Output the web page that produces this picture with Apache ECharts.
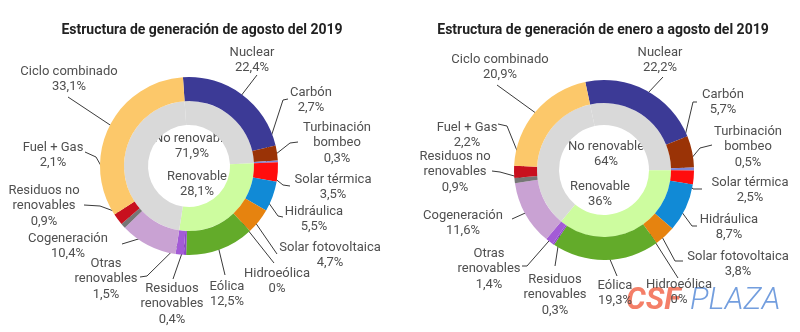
<!DOCTYPE html>
<html><head><meta charset="utf-8">
<script src="https://cdn.jsdelivr.net/npm/echarts@6/dist/echarts.min.js"></script>
<style>html,body{margin:0;padding:0;background:#fff}#c{width:800px;height:332px}</style>
</head><body><div id="c"></div>
<script>
// ---------- DATA ----------
const titles = ['Estructura de generación de agosto del 2019', 'Estructura de generación de enero a agosto del 2019'];
const categories = ['Nuclear', 'Carbón', 'Turbinación\nbombeo', 'Solar térmica', 'Hidráulica', 'Solar fotovoltaica', 'Hidroeólica', 'Eólica', 'Residuos\nrenovables', 'Otras\nrenovables', 'Cogeneración', 'Residuos no\nrenovables', 'Fuel + Gas', 'Ciclo combinado'];
const renewable = [0, 0, 0, 1, 1, 1, 1, 1, 1, 1, 0, 0, 0, 0];
const agosto2019 = [22.4, 2.7, 0.3, 3.5, 5.5, 4.7, 0, 12.5, 0.4, 1.5, 10.4, 0.9, 2.1, 33.1];
const eneroAgosto2019 = [22.2, 5.7, 0.5, 2.5, 8.7, 3.8, 0, 19.3, 0.3, 1.4, 11.6, 0.9, 2.2, 20.9];
const groupNames = ['No renovable', 'Renovable'];
const groupAgosto2019 = [71.9, 28.1];
const groupEneroAgosto2019 = [64, 36];

// ---------- STYLE / LAYOUT ----------
const colors = ['#3c3a96', '#9a3306', '#7f86d6', '#ff0d0d', '#118ad6', '#e6830f', '#6cb0e0', '#63ab2a', '#8e48c8', '#a35bd6', '#c9a2d3', '#767676', '#c8101e', '#fcc86a'];
const groupColors = ['#d9d9d9', '#cdfc9f'];
const FONT = 'Roboto';
const charts = [
  { values: agosto2019, groups: groupAgosto2019, center: [189, 166], outer: [65, 89], inner: [41, 65], startAngle: 93.9, titleX: 197,
    labels: [[252,60],[311,100],[337,143],[333,187],[314,219],[330,255],[277,281],[227,294],[172,304],[106,279],[68,246],[44,206],[53,155],[69,79]],
    lines: [[[257,75]], [[283,100],[288,99]], [[290,143],[298,142]], [[283,185],[290,186]], [[278,216],[283,217]], [[277,254]], [[274,263]], [[225,275]], [[173,279]], [[147,276],[140,277]], [[122,244]], [[100,206],[84,205]], [[96,157],[85,152]], [[68,97]]],
    centerText: [[192,146],[197,184]] },
  { values: eneroAgosto2019, groups: groupEneroAgosto2019, center: [604, 170], outer: [67, 90], inner: [45, 67], startAngle: 102, titleX: 598,
    labels: [[660,60],[723,102],[748,147],[750,190],[729,227],[738,264],[679,292],[615,293],[555,295],[489,269],[463,223],[455,172],[467,135],[500,67]],
    lines: [[[663,77]], [[693,102],[697,102]], [[700,148],[712,145]], [[693,189],[702,189]], [[692,226],[697,226]], [[675,261],[683,261]], [[678,278]], [[617,276]], [[555,266]], [[527,266],[522,266]], [[512,219]], [[500,172],[492,171]], [[507,126],[498,124]], [[497,85]]],
    centerText: [[606,154],[600,194]] }
];

const fmt = v => String(v).replace('.', ',') + '%';

function segMid(ch, i) {
  const vals = ch.values;
  const total = vals.reduce((a, b) => a + b, 0);
  let before = 0;
  for (let k = 0; k < i; k++) before += vals[k];
  const mid = before + vals[i] / 2;
  const th = (mid / total) * 2 * Math.PI + (90 - ch.startAngle) * Math.PI / 180;
  const rm = (ch.outer[0] + ch.outer[1]) / 2;
  return [ch.center[0] + rm * Math.sin(th), ch.center[1] - rm * Math.cos(th)];
}

function innerRuns(ch) {
  const runs = [];
  ch.values.forEach((v, i) => {
    const g = renewable[i];
    if (runs.length && runs[runs.length - 1].g === g) runs[runs.length - 1].value += v;
    else runs.push({ g: g, value: v });
  });
  return runs.map(r => ({ value: r.value, name: groupNames[1 - r.g] + runs.indexOf(r), itemStyle: { color: groupColors[r.g] } }));
}

const series = [];
const graphic = [];
charts.forEach((ch, ci) => {
  series.push({
    type: 'pie', center: ch.center, radius: ch.inner, startAngle: ch.startAngle, clockwise: true,
    silent: true, label: { show: false }, labelLine: { show: false }, emphasis: { disabled: true },
    itemStyle: { borderWidth: 0 }, data: innerRuns(ch), animation: false
  });
  series.push({
    type: 'pie', center: ch.center, radius: ch.outer, startAngle: ch.startAngle, clockwise: true,
    silent: true, avoidLabelOverlap: false, emphasis: { disabled: true }, animation: false,
    itemStyle: { borderWidth: 0 },
    label: { show: true, position: 'outside', fontFamily: FONT, fontSize: 13, lineHeight: 15.5, color: '#4f4f4f',
      formatter: p => p.name + '\n' + fmt(p.value) },
    labelLine: { show: true, smooth: false, lineStyle: { color: '#3a3a3a', width: 1 } },
    labelLayout: function (params) {
      const i = params.dataIndex;
      const pos = ch.labels[i];
      return { x: pos[0], y: pos[1], align: 'center', verticalAlign: 'middle',
        labelLinePoints: [segMid(ch, i)].concat(ch.lines[i]).slice(0, 3).length === 3 ? [segMid(ch, i)].concat(ch.lines[i]) : [segMid(ch, i), ch.lines[i][0], ch.lines[i][0]] };
    },
    data: ch.values.map((v, i) => ({ value: v, name: categories[i], itemStyle: { color: colors[i] } }))
  });
  ch.groups.forEach((g, gi) => {
    graphic.push({ type: 'text', x: ch.centerText[gi][0], y: ch.centerText[gi][1], silent: true,
      style: { text: groupNames[gi] + '\n' + fmt(g), fontFamily: FONT, fontSize: 13, lineHeight: 15.5, fill: '#4f4f4f', align: 'center', verticalAlign: 'middle' } });
  });
});

graphic.push({ type: 'text', x: 626, y: 301, silent: true,
  style: { text: 'CSF', fontFamily: FONT, fontSize: 31, fontWeight: 'bold', fontStyle: 'italic', fill: 'rgba(242,104,78,0.85)', verticalAlign: 'middle' } });
graphic.push({ type: 'text', x: 690, y: 301, silent: true,
  style: { text: 'PLAZA', fontFamily: FONT, fontSize: 31, fontWeight: 300, fontStyle: 'italic', fill: 'rgba(100,148,218,0.9)', verticalAlign: 'middle' } });

const chart = echarts.init(document.getElementById('c'), null, { renderer: 'canvas' });
chart.setOption({
  backgroundColor: '#fff',
  animation: false,
  title: charts.map((ch, ci) => ({ text: titles[ci], left: ch.titleX, top: 18, textAlign: 'center',
    textStyle: { fontFamily: FONT, fontSize: 14, fontWeight: 'bold', color: '#222' } })),
  series: series,
  graphic: graphic
});
</script>
</body></html>
